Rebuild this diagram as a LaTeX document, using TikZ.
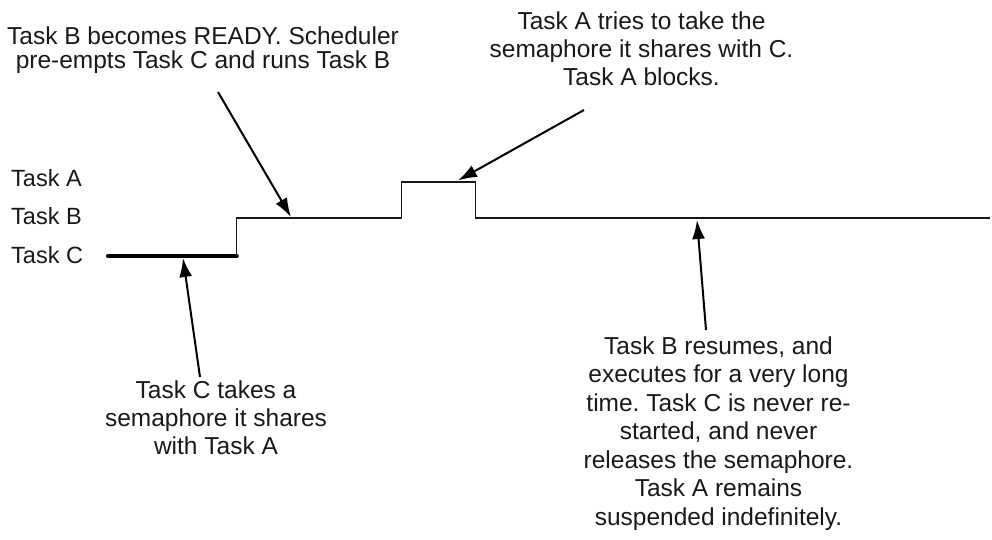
\documentclass[tikz,border=0pt]{standalone}
\usepackage{fontspec}
\setmainfont{Liberation Sans}
\frenchspacing
\usetikzlibrary{arrows.meta}
\newcommand{\tblock}[2]{\parbox[t]{420pt}{\centering\fontsize{24.5}{#1}\selectfont #2}}
\begin{document}
\begin{tikzpicture}[x=1pt,y=-1pt,
  thinline/.style={line width=1.8pt,draw=black!90},
  thickline/.style={line width=4.5pt,draw=black,line cap=round},
  pointer/.style={-{Latex[length=19pt,width=13pt]},line width=2pt,draw=black},
  txt/.style={inner sep=0pt,anchor=base,text=black!90},
  lbl/.style={inner sep=0pt,anchor=base west,font=\fontsize{23.5}{28}\selectfont,text=black!90}]
\useasboundingbox (0,0) rectangle (992,539);
% labels
\node[lbl] (la) at (11,186.6) {Task A};
\node[lbl] (lb) at (11,224.6) {Task B};
\node[lbl] (lc) at (11,263.4) {Task C};
% timeline
\coordinate (c0) at (108,256);
\coordinate (c1) at (236.5,256);
\coordinate (b0) at (236.5,218);
\coordinate (b1) at (401.5,218);
\coordinate (a0) at (401.5,182);
\coordinate (a1) at (475.5,182);
\coordinate (b2) at (475.5,218);
\coordinate (b3) at (990,218);
\draw[thickline] (c0) -- (c1);
\draw[thinline] (c1) -- (b0) -- (b1) -- (a0) -- (a1) -- (b2) -- (b3);
% texts
\node[txt] (ready) at (203,44.5) {\tblock{24}{Task B becomes READY. Scheduler\\pre-empts Task C and runs Task B}};
\node[txt] (tries) at (641.5,29.5) {\tblock{28}{Task A tries to take the\\semaphore it shares with C.\\Task A blocks.}};
\node[txt] (takes) at (216,398.3) {\tblock{28.3}{Task C takes a\\semaphore it shares\\with Task A}};
\node[txt] (resumes) at (718.5,354) {\tblock{28.5}{Task B resumes, and\\executes for a very long\\time. Task C is never re-\\started, and never\\releases the semaphore.\\Task A remains\\suspended indefinitely.}};
% arrows
\coordinate (t1) at (218,92);  \coordinate (h1) at (291,217);
\coordinate (t2) at (584,110); \coordinate (h2) at (458,180.5);
\coordinate (t3) at (200,377); \coordinate (h3) at (183,258);
\coordinate (t4) at (706,330); \coordinate (h4) at (697,220);
\draw[pointer] (t1) -- (h1);
\draw[pointer] (t2) -- (h2);
\draw[pointer] (t3) -- (h3);
\draw[pointer] (t4) -- (h4);
\end{tikzpicture}
\end{document}
